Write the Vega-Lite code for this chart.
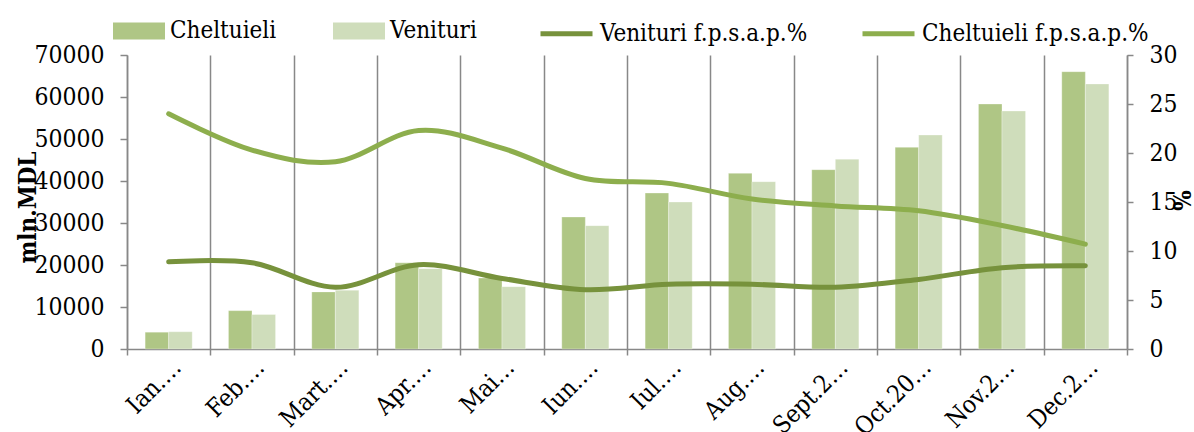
{
  "$schema": "https://vega.github.io/schema/vega-lite/v6.json",
  "width": 1000,
  "height": 294,
  "autosize": {"type": "none"},
  "padding": {"left": 127, "top": 55, "right": 67, "bottom": 83},
  "background": "white",
  "config": {
    "view": {"stroke": null},
    "font": "DejaVu Serif Condensed",
    "axis": {"labelFont": "DejaVu Serif Condensed", "labelFontSize": 24.5, "labelColor": "#000000", "domainColor": "#888888", "domainWidth": 1.5, "tickColor": "#888888", "tickWidth": 1.5, "titleFont": "DejaVu Serif Condensed", "titleColor": "#000000"},
    "legend": {"labelFont": "DejaVu Serif Condensed", "labelFontSize": 24, "labelColor": "#000000", "padding": 0, "labelLimit": 400}
  },
  "datasets": {
    "bars": [
      {"month": "Ian.…", "series": "Cheltuieli", "value": 4000},
      {"month": "Ian.…", "series": "Venituri", "value": 4100},
      {"month": "Feb.…", "series": "Cheltuieli", "value": 9130},
      {"month": "Feb.…", "series": "Venituri", "value": 8200},
      {"month": "Mart.…", "series": "Cheltuieli", "value": 13600},
      {"month": "Mart.…", "series": "Venituri", "value": 14000},
      {"month": "Apr.…", "series": "Cheltuieli", "value": 20550},
      {"month": "Apr.…", "series": "Venituri", "value": 19130},
      {"month": "Mai…", "series": "Cheltuieli", "value": 16900},
      {"month": "Mai…", "series": "Venituri", "value": 14850},
      {"month": "Iun.…", "series": "Cheltuieli", "value": 31430},
      {"month": "Iun.…", "series": "Venituri", "value": 29370},
      {"month": "Iul.…", "series": "Cheltuieli", "value": 37140},
      {"month": "Iul.…", "series": "Venituri", "value": 35000},
      {"month": "Aug.…", "series": "Cheltuieli", "value": 41830},
      {"month": "Aug.…", "series": "Venituri", "value": 39840},
      {"month": "Sept.2…", "series": "Cheltuieli", "value": 42700},
      {"month": "Sept.2…", "series": "Venituri", "value": 45200},
      {"month": "Oct.20…", "series": "Cheltuieli", "value": 48020},
      {"month": "Oct.20…", "series": "Venituri", "value": 50950},
      {"month": "Nov.2…", "series": "Cheltuieli", "value": 58330},
      {"month": "Nov.2…", "series": "Venituri", "value": 56670},
      {"month": "Dec.2…", "series": "Cheltuieli", "value": 66030},
      {"month": "Dec.2…", "series": "Venituri", "value": 63100}
    ],
    "lines": [
      {"month": "Ian.…", "series": "Venituri f.p.s.a.p.%", "pct": 8.9},
      {"month": "Feb.…", "series": "Venituri f.p.s.a.p.%", "pct": 8.8},
      {"month": "Mart.…", "series": "Venituri f.p.s.a.p.%", "pct": 6.3},
      {"month": "Apr.…", "series": "Venituri f.p.s.a.p.%", "pct": 8.6},
      {"month": "Mai…", "series": "Venituri f.p.s.a.p.%", "pct": 7.2},
      {"month": "Iun.…", "series": "Venituri f.p.s.a.p.%", "pct": 6.05},
      {"month": "Iul.…", "series": "Venituri f.p.s.a.p.%", "pct": 6.6},
      {"month": "Aug.…", "series": "Venituri f.p.s.a.p.%", "pct": 6.6},
      {"month": "Sept.2…", "series": "Venituri f.p.s.a.p.%", "pct": 6.3},
      {"month": "Oct.20…", "series": "Venituri f.p.s.a.p.%", "pct": 7.1},
      {"month": "Nov.2…", "series": "Venituri f.p.s.a.p.%", "pct": 8.3},
      {"month": "Dec.2…", "series": "Venituri f.p.s.a.p.%", "pct": 8.5},
      {"month": "Ian.…", "series": "Cheltuieli f.p.s.a.p.%", "pct": 24.0},
      {"month": "Feb.…", "series": "Cheltuieli f.p.s.a.p.%", "pct": 20.3},
      {"month": "Mart.…", "series": "Cheltuieli f.p.s.a.p.%", "pct": 19.1},
      {"month": "Apr.…", "series": "Cheltuieli f.p.s.a.p.%", "pct": 22.3},
      {"month": "Mai…", "series": "Cheltuieli f.p.s.a.p.%", "pct": 20.5},
      {"month": "Iun.…", "series": "Cheltuieli f.p.s.a.p.%", "pct": 17.4},
      {"month": "Iul.…", "series": "Cheltuieli f.p.s.a.p.%", "pct": 16.9},
      {"month": "Aug.…", "series": "Cheltuieli f.p.s.a.p.%", "pct": 15.3},
      {"month": "Sept.2…", "series": "Cheltuieli f.p.s.a.p.%", "pct": 14.6},
      {"month": "Oct.20…", "series": "Cheltuieli f.p.s.a.p.%", "pct": 14.1},
      {"month": "Nov.2…", "series": "Cheltuieli f.p.s.a.p.%", "pct": 12.6},
      {"month": "Dec.2…", "series": "Cheltuieli f.p.s.a.p.%", "pct": 10.7}
    ]
  },
  "layer": [
    {
      "data": {"name": "bars"},
      "mark": {"type": "bar", "stroke": "#ffffff", "strokeWidth": 0.5, "strokeOpacity": 0.6},
      "encoding": {
        "x": {
          "field": "month", "type": "nominal", "title": null,
          "scale": {"domain": ["Ian.…", "Feb.…", "Mart.…", "Apr.…", "Mai…", "Iun.…", "Iul.…", "Aug.…", "Sept.2…", "Oct.20…", "Nov.2…", "Dec.2…"], "paddingInner": 0, "paddingOuter": 0},
          "axis": {"labelAngle": -45, "tickBand": "extent", "grid": true, "gridColor": "#888888", "gridWidth": 1.5, "tickSize": 6, "labelPadding": 0, "labelDx": 16}
        },
        "xOffset": {"field": "series", "type": "nominal", "scale": {"domain": ["Cheltuieli", "Venituri"], "paddingInner": 0, "paddingOuter": 0.77}},
        "y": {
          "field": "value", "type": "quantitative",
          "scale": {"domain": [0, 70000], "nice": false},
          "axis": {"values": [0, 10000, 20000, 30000, 40000, 50000, 60000, 70000], "format": "d", "grid": false, "tickSize": 7, "labelPadding": 16, "title": "mln.MDL", "titleFontSize": 24, "titleFontWeight": "bold", "titleAngle": -90, "titleX": -99, "titleY": 152, "titleAlign": "center", "titleBaseline": "middle"}
        },
        "fill": {
          "field": "series", "type": "nominal",
          "scale": {"domain": ["Cheltuieli", "Venituri"], "range": ["#AFC685", "#CFDDBB"]},
          "legend": {"title": null, "orient": "none", "direction": "horizontal", "legendX": -14, "legendY": -50, "symbolType": "M-1,-0.327L1,-0.327L1,0.327L-1,0.327Z", "symbolSize": 2704, "symbolStrokeWidth": 0, "labelOffset": 5, "columnPadding": 56}
        }
      }
    },
    {
      "data": {"name": "lines"},
      "mark": {"type": "line", "strokeWidth": 5, "strokeCap": "round", "interpolate": "cardinal"},
      "encoding": {
        "x": {"field": "month", "type": "nominal"},
        "y": {
          "field": "pct", "type": "quantitative",
          "scale": {"domain": [0, 30], "nice": false},
          "axis": {"orient": "right", "values": [0, 5, 10, 15, 20, 25, 30], "grid": false, "tickSize": 6, "labelPadding": 16, "title": "%", "titleFontSize": 24, "titleFontWeight": "bold", "titleAngle": 90, "titleX": 52, "titleY": 145, "titleAlign": "center", "titleBaseline": "middle"}
        },
        "stroke": {
          "field": "series", "type": "nominal",
          "scale": {"domain": ["Venituri f.p.s.a.p.%", "Cheltuieli f.p.s.a.p.%"], "range": ["#77923C", "#8DAE4D"]},
          "legend": {"title": null, "orient": "none", "direction": "horizontal", "legendX": 411, "legendY": -50, "symbolType": "stroke", "symbolSize": 2704, "symbolStrokeWidth": 5, "labelOffset": 5, "columnPadding": 44}
        }
      }
    }
  ],
  "resolve": {"scale": {"y": "independent", "fill": "independent", "stroke": "independent"}}
}
